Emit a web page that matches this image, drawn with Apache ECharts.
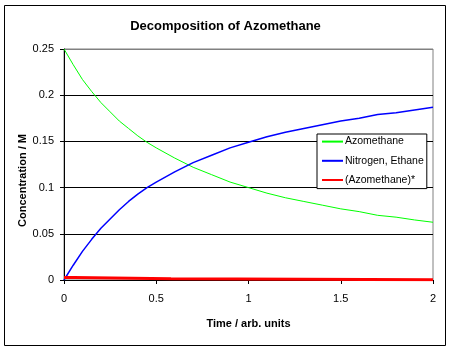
<!DOCTYPE html>
<html>
<head>
<meta charset="utf-8">
<script src="https://cdn.jsdelivr.net/npm/echarts@6/dist/echarts.min.js"></script>
<style>
  html, body { margin: 0; padding: 0; background: #fff; }
  #main { width: 451px; height: 352px; }
</style>
</head>
<body>
<div id="main"></div>
<script>
// time points (arb. units)
const times = [0, 0.05, 0.1, 0.15, 0.2, 0.25, 0.3, 0.35, 0.4, 0.45, 0.5,
  0.6, 0.7, 0.8, 0.9, 1.0, 1.1, 1.2, 1.3, 1.4, 1.5, 1.6, 1.7, 1.8, 1.9, 2.0];
const azomethane = [0.25, 0.233, 0.217, 0.204, 0.192, 0.182, 0.172, 0.164, 0.156, 0.149, 0.143,
  0.132, 0.122, 0.114, 0.106, 0.100, 0.094, 0.089, 0.085, 0.081, 0.077, 0.074, 0.070, 0.068, 0.065, 0.0625];
const nitrogenEthane = [0, 0.016, 0.031, 0.044, 0.056, 0.066, 0.076, 0.085, 0.093, 0.100, 0.106,
  0.117, 0.127, 0.135, 0.143, 0.149, 0.155, 0.160, 0.164, 0.168, 0.172, 0.175, 0.179, 0.181, 0.184, 0.187];
// activated intermediate, tiny steady-state amounts
const starTimes = [0, 0.055, 0.055, 0.58, 0.58, 2.0];
const starConc = [0.0026, 0.0026, 0.0013, 0.0013, 0.0002, 0.0002];

const seriesNames = ['Azomethane', 'Nitrogen, Ethane', '(Azomethane)*'];

const pairs = (xs, ys) => xs.map((x, i) => [x, ys[i]]);

const chart = echarts.init(document.getElementById('main'));
const font = 'Liberation Sans, Arial, sans-serif';

chart.setOption({
  animation: false,
  backgroundColor: '#fff',
  textStyle: { fontFamily: font, color: '#000' },
  graphic: [{
    type: 'rect',
    shape: { x: 4.5, y: 5.5, width: 441, height: 340 },
    style: { fill: 'none', stroke: '#000', lineWidth: 1 },
    silent: true
  }],
  title: {
    text: 'Decomposition of Azomethane',
    left: 'center',
    top: 15,
    textStyle: { fontFamily: font, fontSize: 13, fontWeight: 'bold', color: '#000' }
  },
  grid: {
    left: 64, top: 49, right: 18, bottom: 72,
    show: true, borderColor: '#808080', borderWidth: 1, backgroundColor: '#fff'
  },
  legend: {
    orient: 'vertical',
    left: 317,
    top: 134,
    data: seriesNames,
    itemWidth: 21,
    itemHeight: 14,
    itemGap: 8,
    padding: [2, 3, 3, 4],
    backgroundColor: '#fff',
    borderColor: '#000',
    borderWidth: 1,
    itemStyle: { opacity: 0 },
    textStyle: { fontFamily: font, fontSize: 10.5, color: '#000', padding: [0, 0, 0, -3] }
  },
  xAxis: {
    type: 'value',
    min: 0, max: 2, interval: 0.5,
    name: 'Time / arb. units',
    nameLocation: 'middle',
    nameGap: 38,
    nameMoveOverlap: false,
    nameTextStyle: { fontFamily: font, fontSize: 11, fontWeight: 'bold', color: '#000' },
    axisLine: { lineStyle: { color: '#000', width: 1 } },
    axisTick: { show: true, length: 4, lineStyle: { color: '#000' } },
    axisLabel: { fontFamily: font, fontSize: 11, color: '#000', margin: 13 },
    splitLine: { show: false }
  },
  yAxis: {
    type: 'value',
    min: 0, max: 0.25, interval: 0.05,
    name: 'Concentration / M',
    nameLocation: 'middle',
    nameGap: 36,
    nameMoveOverlap: false,
    nameTextStyle: { fontFamily: font, fontSize: 11, fontWeight: 'bold', color: '#000', padding: [0, 32, 0, 0] },
    axisLine: { show: true, lineStyle: { color: '#000', width: 1 } },
    axisTick: { show: true, length: 4, lineStyle: { color: '#000' } },
    axisLabel: { fontFamily: font, fontSize: 11, color: '#000', margin: 10 },
    splitLine: { show: true, lineStyle: { color: ['#000', '#000', '#000', '#000', '#000', '#808080'], width: 1 } }
  },
  series: [
    {
      name: seriesNames[0],
      type: 'line',
      data: pairs(times, azomethane),
      symbol: 'none',
      color: '#00ff00',
      lineStyle: { color: '#00ff00', width: 1 }
    },
    {
      name: seriesNames[1],
      type: 'line',
      data: pairs(times, nitrogenEthane),
      symbol: 'none',
      color: '#0000ff',
      lineStyle: { color: '#0000ff', width: 1.5 }
    },
    {
      name: seriesNames[2],
      type: 'line',
      data: pairs(starTimes, starConc),
      symbol: 'none',
      color: '#ff0000',
      lineStyle: { color: '#ff0000', width: 3 }
    }
  ]
});
</script>
</body>
</html>
